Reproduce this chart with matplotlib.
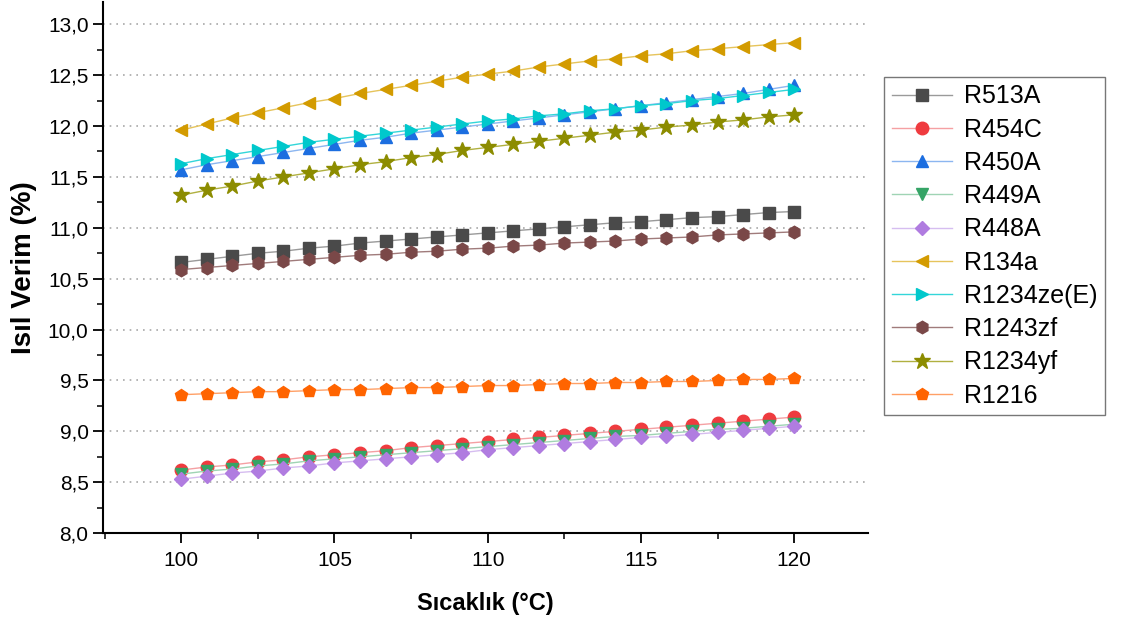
import matplotlib
matplotlib.use("Agg")
import matplotlib.pyplot as plt
from matplotlib.ticker import FuncFormatter, MultipleLocator
import numpy as np

plt.rcParams['font.family'] = ['Liberation Sans', 'DejaVu Sans']

# temperature points (25 steps from 100 to 120 degC)
temps = np.linspace(100, 120, 25)

r513a = [10.66, 10.69, 10.72, 10.75, 10.77, 10.80, 10.82, 10.85, 10.87, 10.89, 10.91, 10.93, 10.95,
         10.97, 10.99, 11.01, 11.03, 11.05, 11.06, 11.08, 11.10, 11.11, 11.13, 11.15, 11.16]
r454c = [8.62, 8.65, 8.67, 8.70, 8.72, 8.75, 8.77, 8.79, 8.81, 8.84, 8.86, 8.88, 8.90,
         8.92, 8.94, 8.96, 8.98, 9.00, 9.02, 9.04, 9.06, 9.08, 9.10, 9.12, 9.14]
r450a = [11.57, 11.62, 11.66, 11.70, 11.74, 11.78, 11.82, 11.86, 11.89, 11.93, 11.96, 11.99, 12.02,
         12.05, 12.08, 12.11, 12.14, 12.17, 12.20, 12.23, 12.26, 12.29, 12.32, 12.36, 12.40]
r449a = [8.58, 8.61, 8.63, 8.66, 8.68, 8.71, 8.73, 8.75, 8.77, 8.79, 8.81, 8.83, 8.85,
         8.87, 8.89, 8.91, 8.93, 8.95, 8.96, 8.98, 9.00, 9.02, 9.03, 9.05, 9.07]
r448a = [8.53, 8.56, 8.59, 8.61, 8.64, 8.66, 8.69, 8.71, 8.73, 8.75, 8.77, 8.79, 8.82,
         8.84, 8.86, 8.88, 8.90, 8.92, 8.94, 8.95, 8.97, 8.99, 9.01, 9.03, 9.05]
r134a = [11.96, 12.02, 12.08, 12.13, 12.18, 12.23, 12.27, 12.32, 12.36, 12.40, 12.44, 12.48, 12.51,
         12.54, 12.58, 12.61, 12.64, 12.66, 12.69, 12.71, 12.74, 12.76, 12.78, 12.80, 12.82]
r1234ze = [11.63, 11.68, 11.72, 11.76, 11.80, 11.84, 11.87, 11.90, 11.93, 11.96, 11.99, 12.02, 12.05,
           12.07, 12.10, 12.12, 12.15, 12.17, 12.20, 12.22, 12.25, 12.27, 12.30, 12.33, 12.36]
r1243zf = [10.59, 10.61, 10.63, 10.65, 10.67, 10.69, 10.71, 10.73, 10.74, 10.76, 10.77, 10.79, 10.80,
           10.82, 10.83, 10.85, 10.86, 10.87, 10.89, 10.90, 10.91, 10.93, 10.94, 10.95, 10.96]
r1234yf = [11.32, 11.37, 11.41, 11.46, 11.50, 11.54, 11.58, 11.62, 11.65, 11.69, 11.72, 11.76, 11.79,
           11.82, 11.85, 11.88, 11.91, 11.94, 11.96, 11.99, 12.01, 12.04, 12.06, 12.09, 12.11]
r1216 = [9.36, 9.37, 9.38, 9.39, 9.39, 9.40, 9.41, 9.41, 9.42, 9.43, 9.43, 9.44, 9.45,
         9.45, 9.46, 9.47, 9.47, 9.48, 9.48, 9.49, 9.49, 9.50, 9.51, 9.51, 9.52]

# (label, values, marker, marker colour, line colour)
series = [
    ('R513A', r513a, 's', '#4a4a4a', '#9a9a9a'),
    ('R454C', r454c, 'o', '#ef3b3f', '#f5a0a3'),
    ('R450A', r450a, '^', '#1c6ee0', '#8cb6f0'),
    ('R449A', r449a, 'v', '#35a466', '#9fd4b4'),
    ('R448A', r448a, 'D', '#b07ce0', '#d6bdf0'),
    ('R134a', r134a, '<', '#d39b00', '#e6c45c'),
    ('R1234ze(E)', r1234ze, '>', '#00c8cc', '#33d6d9'),
    ('R1243zf', r1243zf, 'h', '#7a4848', '#a07b7b'),
    ('R1234yf', r1234yf, '*', '#8c8c00', '#b0b040'),
    ('R1216', r1216, 'p', '#ff6400', '#ffa066'),
]

fig = plt.figure(figsize=(11.21, 6.25), dpi=100)
ax = fig.add_axes([0.092, 0.147, 0.682, 0.85])

for label, vals, mk, mc, lc in series:
    ms = 12 if mk == '*' else 9
    if mk == 'D':
        ms = 7.5
    ax.plot(temps, vals, color=lc, linewidth=1.0, marker=mk, markersize=ms,
            markerfacecolor=mc, markeredgecolor=mc, label=label)

ax.set_xlim(97.45, 122.4)
ax.set_ylim(8.0, 13.22)
ax.xaxis.set_major_locator(MultipleLocator(5))
ax.xaxis.set_minor_locator(MultipleLocator(2.5))
ax.yaxis.set_major_locator(MultipleLocator(0.5))
ax.yaxis.set_minor_locator(MultipleLocator(0.25))
ax.yaxis.set_major_formatter(FuncFormatter(lambda v, p: f"{v:.1f}".replace('.', ',')))

ax.spines['top'].set_visible(False)
ax.spines['right'].set_visible(False)
ax.spines['left'].set_linewidth(1.5)
ax.spines['bottom'].set_linewidth(1.5)
ax.tick_params(which='major', direction='out', length=7, width=1.3)
ax.tick_params(which='minor', direction='out', length=4, width=1.1)
ax.tick_params(axis='y', labelsize=15)
ax.tick_params(axis='x', labelsize=15, pad=6)

for yv in np.arange(8.5, 13.01, 0.5):
    ax.axhline(yv, color='#a8a8a8', linestyle=(0, (1, 3)), linewidth=1.2, zorder=0)

ax.set_xlabel('Sıcaklık (°C)', fontsize=17, fontweight='bold', labelpad=16)
ax.set_ylabel('Isıl Verim (%)', fontsize=20, fontweight='bold', labelpad=8)

leg = ax.legend(loc='upper left', bbox_to_anchor=(0.789, 0.877), bbox_transform=fig.transFigure,
                fontsize=18, frameon=True, fancybox=False, edgecolor='#555555',
                handlelength=2.4, labelspacing=0.37, borderpad=0.3, handletextpad=0.5,
                borderaxespad=0)
leg.get_frame().set_linewidth(1.0)

fig.savefig('out.png', dpi=100)
